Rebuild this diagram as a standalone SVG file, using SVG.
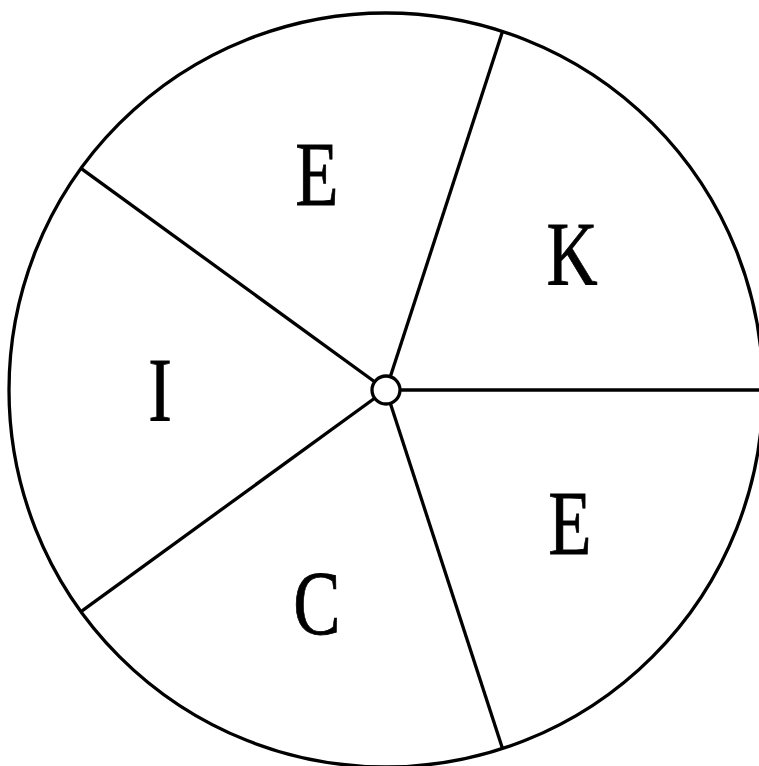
<svg xmlns="http://www.w3.org/2000/svg" width="759" height="766" viewBox="0 0 759 766">
<style>
.ln{stroke:#000;stroke-width:3.3;fill:none}
.lb{font-family:"Liberation Serif","DejaVu Serif",serif;font-size:92px;fill:#000;stroke:#000;stroke-width:0.8;text-anchor:middle}
</style>
<rect width="759" height="766" fill="#fff"/>
<g id="wheel">
<circle class="ln" cx="386" cy="390" r="377"/>
</g>
<g id="connectors">
<line class="ln" x1="386" y1="390" x2="763" y2="390"/>
<line class="ln" x1="386" y1="390" x2="502.5" y2="31.5"/>
<line class="ln" x1="386" y1="390" x2="81" y2="168.4"/>
<line class="ln" x1="386" y1="390" x2="81" y2="611.6"/>
<line class="ln" x1="386" y1="390" x2="502.5" y2="748.5"/>
</g>
<g id="hub">
<circle cx="386" cy="390" r="14" fill="#fff" stroke="#000" stroke-width="3.3"/>
</g>
<g id="sector-E1"><text class="lb" x="317" y="205" transform="translate(317 0) scale(0.77 1) translate(-317 0)">E</text></g>
<g id="sector-K"><text class="lb" x="572" y="285" transform="translate(572 0) scale(0.77 1) translate(-572 0)">K</text></g>
<g id="sector-I"><text class="lb" x="160" y="421" transform="translate(160 0) scale(0.77 1) translate(-160 0)">I</text></g>
<g id="sector-E2"><text class="lb" x="570" y="554" transform="translate(570 0) scale(0.77 1) translate(-570 0)">E</text></g>
<g id="sector-C"><text class="lb" x="317" y="634" transform="translate(317 0) scale(0.77 1) translate(-317 0)">C</text></g>
</svg>
